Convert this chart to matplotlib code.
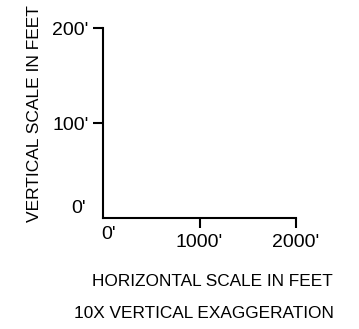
import matplotlib
matplotlib.use("Agg")
import matplotlib.pyplot as plt
from matplotlib.transforms import offset_copy

plt.rcParams['font.family'] = ['Liberation Sans', 'DejaVu Sans']

# Data
x_ticks = [1000, 2000]
x_tick_labels = ["1000'", "2000'"]
y_ticks = [100, 200]
y_tick_labels = ["100'", "200'"]
origin_label = "0'"
x_range = [0, 2000]
y_range = [0, 200]
x_title = "HORIZONTAL SCALE IN FEET"
note = "10X VERTICAL EXAGGERATION"
y_title = "VERTICAL SCALE IN FEET"

W, H = 359, 329
fig = plt.figure(figsize=(W / 100, H / 100), dpi=100)
ax = fig.add_axes([103.3 / W, 1 - 218.3 / H, (295.7 - 103.3) / W, (218.3 - 28.3) / H])
ax.set_xlim(x_range)
ax.set_ylim(y_range)
for s in ['top', 'right']:
    ax.spines[s].set_visible(False)
for s in ['left', 'bottom']:
    ax.spines[s].set_linewidth(1.5)
    ax.spines[s].set_capstyle('projecting')
ax.set_xticks(x_ticks)
ax.set_xticklabels(x_tick_labels)
ax.set_yticks(y_ticks)
ax.set_yticklabels(y_tick_labels)
ax.tick_params(axis='both', direction='out', length=7.5, width=1.5, labelsize=14, color='black')
ax.tick_params(axis='x', pad=3.5)
ax.tick_params(axis='y', pad=3.0)
ax.patch.set_visible(False)

# origin labels
ax.text(0, 0, origin_label, fontsize=14, ha='right', va='center',
        transform=offset_copy(ax.transData, fig=fig, x=-12.5, y=6.7, units='points'))
ax.text(0, 0, origin_label, fontsize=14, ha='center', va='top',
        transform=offset_copy(ax.transData, fig=fig, x=3.5, y=-5.5, units='points'))

fig.text(212 / W, 1 - 282 / H, x_title, fontsize=12.4, ha='center', va='center')
fig.text(204 / W, 1 - 313 / H, note, fontsize=12.4, ha='center', va='center')
fig.text(35 / W, 1 - 114 / H, y_title, fontsize=12.5, ha='center', va='center', rotation=90)

fig.savefig('out.png', dpi=100)
